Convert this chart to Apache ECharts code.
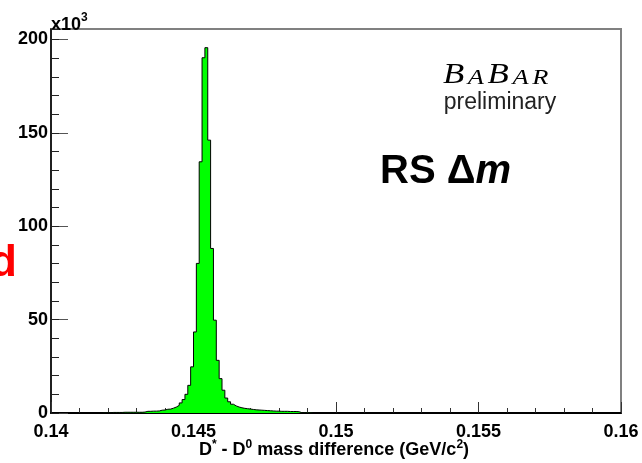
<!DOCTYPE html>
<html><head><meta charset="utf-8">
<script src="https://cdn.jsdelivr.net/npm/echarts@6/dist/echarts.min.js"></script>
<style>html,body{margin:0;padding:0;background:#fff}#c{width:642px;height:463px}</style>
</head><body><div id="c"></div><script>
// Histogram definition (GeV/c^2)
const binLow = 0.14;
const binWidth = 0.0001;
const nBins = 200;
const firstFilledBin = 18; // bin index of first entry in counts
// Entries per bin, in units of 10^3
const counts = [
  0.2, 0.2, 0.2, 0.3, 0.3, 0.3, 0.3, 0.4, 0.4, 0.4, 0.4, 0.4, 0.4, 0.4, 0.5,   // bins 18-32
  0.9, 0.9, 1.0, 1.0, 1.1, 1.5, 1.6, 2.0, 2.1, 2.6, 3.2, 4.1, 5.4, 7.2, 10.0,  // bins 33-47
  14.8, 24.7, 43.4, 80.1, 134.5, 190.2, 195.6, 146.1, 88.1, 49.7, 28.2, 18.4, // bins 48-59
  12.2, 8.0, 6.0, 4.7, 3.8, 3.2, 2.8, 2.5, 2.3, 2.1, 1.9, 1.7, 1.6, 1.5, 1.4,  // bins 60-74
  1.3, 1.2, 1.1, 1.0, 1.0, 0.9, 0.9, 0.9, 0.8, 0.8, 0.8, 0.7,                  // bins 75-86
  0.2, 0.2, 0.1, 0.1                                                           // bins 87-90
];
const xMajorTicks = [0.14, 0.145, 0.15, 0.155, 0.16];
const yMajorTicks = [0, 50, 100, 150, 200];
const yMax = 205.6;

const data = [];
for (let i = 0; i < nBins; i++) {
  const j = i - firstFilledBin;
  const v = (j >= 0 && j < counts.length) ? counts[j] : 0;
  data.push([+(binLow + i * binWidth).toFixed(4), v]);
}
data.push([+(binLow + nBins * binWidth).toFixed(4), 0]);

const chart = echarts.init(document.getElementById('c'), null, {renderer: 'canvas'});
const FONT = '"Liberation Sans", Arial, Helvetica, sans-serif';
const SERIF = '"Liberation Serif", "DejaVu Serif", serif';
const lbl = {fontFamily: FONT, fontWeight: 'bold', fontSize: 18, color: '#000'};

chart.setOption({
  animation: false,
  backgroundColor: '#fff',
  grid: {left: 51, right: 21, top: 29, bottom: 50, show: true, borderColor: '#808080', borderWidth: 2, backgroundColor: 'transparent'},
  xAxis: [
    {type: 'value', position: 'bottom', min: 0.14, max: 0.16, interval: 0.005,
     axisLine: {show: true, onZero: false, lineStyle: {color: '#000', width: 2}},
     axisTick: {show: true, inside: true, length: 11, lineStyle: {color: '#333', width: 1}},
     axisLabel: Object.assign({margin: 10, formatter: v => {
        const m = xMajorTicks.find(t => Math.abs(t - v) < 1e-9);
        return m === undefined ? '' : String(m);
      }, showMinLabel: true, showMaxLabel: true}, lbl),
     splitLine: {show: false}},
    {type: 'value', position: 'bottom', min: 0.14, max: 0.16, interval: 0.001,
     axisLine: {show: false}, axisLabel: {show: false}, splitLine: {show: false},
     axisTick: {show: true, inside: true, length: 5, lineStyle: {color: '#333', width: 1}}}
  ],
  yAxis: [
    {type: 'value', position: 'left', min: 0, max: yMax, interval: 50,
     axisLine: {show: true, onZero: false, lineStyle: {color: '#000', width: 1.5}},
     axisTick: {show: true, inside: true, length: 17, lineStyle: {color: '#555', width: 1}},
     axisLabel: Object.assign({margin: 3, formatter: v => (yMajorTicks.indexOf(v) >= 0 ? String(v) : ''),
       showMaxLabel: false}, lbl),
     splitLine: {show: false}},
    {type: 'value', position: 'left', min: 0, max: yMax, interval: 10,
     axisLine: {show: false}, axisLabel: {show: false}, splitLine: {show: false},
     axisTick: {show: true, inside: true, length: 8, lineStyle: {color: '#222', width: 1}}}
  ],
  series: [{
    type: 'line', xAxisIndex: 0, yAxisIndex: 0, step: 'end', symbol: 'none',
    data: data,
    lineStyle: {color: '#000', width: 1},
    areaStyle: {color: '#00ff00', opacity: 1},
    z: 1
  }],
  graphic: [
    {type: 'text', left: 51, top: 12, style: {
      text: '{m|x10}{s|3}', rich: {
        m: {fontFamily: FONT, fontWeight: 'bold', fontSize: 18, fill: '#000', verticalAlign: 'bottom'},
        s: {fontFamily: FONT, fontWeight: 'bold', fontSize: 12, fill: '#000', verticalAlign: 'top', padding: [0,0,10,0]}
      }}},
    {type: 'text', x: 443, y: 75, scaleX: 1.2, style: {
      text: '{b|B}{a|A}{b|B}{a|A}{r|R}', textVerticalAlign: 'middle',
      rich: {
        b: {fontFamily: SERIF, fontStyle: 'italic', fontSize: 29, fill: '#000', padding: [0,3,0,0]},
        a: {fontFamily: SERIF, fontStyle: 'italic', fontSize: 22, fill: '#000', verticalAlign: 'bottom', padding: [0,3,0,0]},
        r: {fontFamily: SERIF, fontStyle: 'italic', fontSize: 22, fill: '#000', verticalAlign: 'bottom'}
      }}},
    {type: 'text', x: 500, y: 103, style: {
      text: 'preliminary', textAlign: 'center', textVerticalAlign: 'middle',
      font: 'normal 23px ' + FONT, fill: '#222'}},
    {type: 'text', x: 380, y: 172, style: {
      text: '{r|RS }{r|Δ}{i|m}', textVerticalAlign: 'middle',
      rich: {
        r: {fontFamily: FONT, fontWeight: 'bold', fontSize: 40, fill: '#000'},
        i: {fontFamily: FONT, fontWeight: 'bold', fontStyle: 'italic', fontSize: 40, fill: '#000'}
      }}},
    {type: 'text', x: -10, y: 264, style: {
      text: 'd', textVerticalAlign: 'middle', font: 'bold 44px ' + FONT, fill: '#ff0000'}},
    {type: 'text', x: 334, y: 450, style: {
      text: '{t|D}{s|*}{t| - D}{s|0}{t| mass difference (GeV/c}{s|2}{t|)}',
      textAlign: 'center', textVerticalAlign: 'middle',
      rich: {
        t: {fontFamily: FONT, fontWeight: 'bold', fontSize: 18, fill: '#000'},
        s: {fontFamily: FONT, fontWeight: 'bold', fontSize: 12, fill: '#000', padding: [0,0,11,0]}
      }}}
  ]
});
</script></body></html>
